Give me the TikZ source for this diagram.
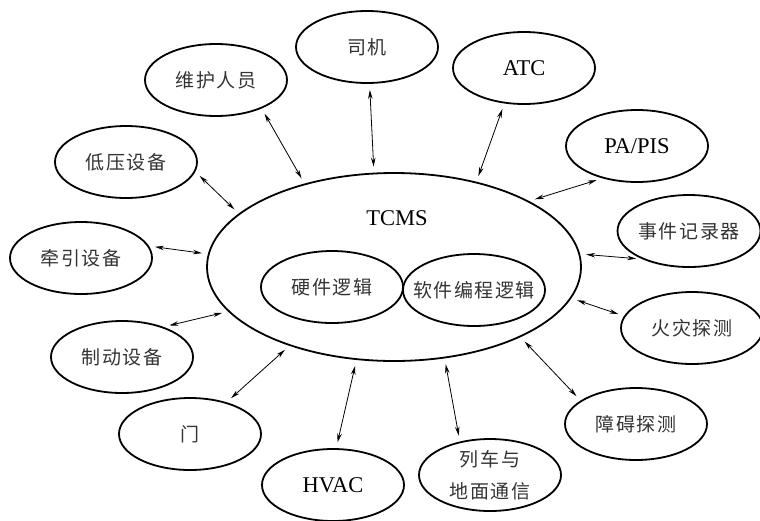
\documentclass[tikz,border=0pt]{standalone}
\usepackage{fontspec}
\setmainfont{Liberation Serif}
\newfontfamily\cjk[LetterSpace=8]{Noto Sans CJK SC}
\usetikzlibrary{shapes.geometric, arrows.meta}
\tikzstyle{unit} = [ellipse, minimum width=142pt, minimum height=72pt, inner sep=0pt, align=center, draw=black, line width=1.8pt, text=black!80, font=\cjk\fontsize{19}{32}\selectfont]
\tikzstyle{latin} = [text=black, font=\fontsize{22.5}{27}\selectfont]
\tikzstyle{arrow} = [line width=0.8pt, {Stealth[length=9pt,width=4.5pt]}-{Stealth[length=9pt,width=4.5pt]}, shorten <=6pt, shorten >=6pt]

\begin{document}
\begin{tikzpicture}[x=1pt, y=-1pt]
        \useasboundingbox (0,0) rectangle (760,520);

        \node (tcms) [ellipse, draw=black, line width=1.8pt, minimum width=374pt, minimum height=188pt] at (394,267) {};
        \node (tcmsLabel) [latin] at (397,218) {TCMS};
        \node (hwLogic) [unit] at (332,287) {硬件逻辑};
        \node (swLogic) [unit, inner xsep=-14pt] at (474,290) {软件编程逻辑};

        \node (maintainer) [unit] at (216,80) {维护人员};
        \node (driver) [unit] at (367,47) {司机};
        \node (atc) [unit, latin] at (524,68) {ATC};
        \node (paPis) [unit, latin] at (637,146) {PA/PIS};
        \node (lowVolt) [unit] at (126,162) {低压设备};
        \node (traction) [unit] at (81,258) {牵引设备};
        \node (eventRec) [unit] at (689,231) {事件记录器};
        \node (fireDet) [unit] at (692,328) {火灾探测};
        \node (obstDet) [unit] at (636,424) {障碍探测};
        \node (trainGround) [unit, inner ysep=-2pt] at (490,475) {列车与\\地面通信};
        \node (hvac) [unit, latin] at (333,485) {HVAC};
        \node (door) [unit] at (190,434) {门};
        \node (brake) [unit] at (122,357) {制动设备};

        \draw [arrow] (maintainer.-32) -- (tcms.137);
        \draw [arrow] (driver.-86) -- (tcms.102);
        \draw [arrow] (atc.-119) -- (tcms.46);
        \draw [arrow] (paPis.-137) -- (tcms.26);
        \draw [arrow] (lowVolt.-8) -- (tcms.161);
        \draw [arrow] (traction.10) -- (tcms.176);
        \draw [arrow] (eventRec.-149) -- (tcms.4);
        \draw [arrow] (fireDet.170) -- (tcms.-10);
        \draw [arrow] (obstDet.157) -- (tcms.-29);
        \draw [arrow] (trainGround.132) -- (tcms.-61);
        \draw [arrow] (hvac.85) -- (tcms.-112);
        \draw [arrow] (door.41) -- (tcms.-143);
        \draw [arrow] (brake.36) -- (tcms.-165);

\end{tikzpicture}
\end{document}
